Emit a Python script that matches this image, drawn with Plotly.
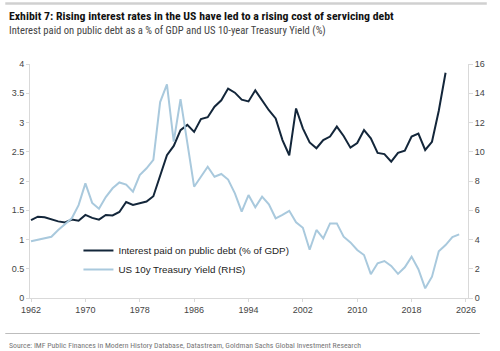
import plotly.graph_objects as go

years_interest = list(range(1962, 2024))
interest_pct_gdp = [
    1.33, 1.39, 1.38, 1.34, 1.31, 1.29, 1.34, 1.32, 1.42, 1.37,
    1.34, 1.42, 1.41, 1.47, 1.64, 1.59, 1.62, 1.65, 1.74, 2.10,
    2.44, 2.60, 2.87, 2.96, 2.84, 3.06, 3.09, 3.27, 3.38, 3.58,
    3.51, 3.39, 3.36, 3.55, 3.38, 3.21, 3.07, 2.70, 2.44, 3.24,
    2.90, 2.66, 2.56, 2.70, 2.76, 2.93, 2.77, 2.57, 2.65, 2.87,
    2.73, 2.48, 2.46, 2.33, 2.48, 2.52, 2.76, 2.81, 2.53, 2.67,
    3.20, 3.85,
]

years_yield = list(range(1962, 2026))
ust10y_yield = [
    3.88, 3.98, 4.13, 4.19, 4.65, 5.05, 5.45, 6.35, 7.84, 6.50,
    6.10, 6.90, 7.50, 7.90, 7.75, 7.27, 8.41, 8.87, 9.44, 13.4,
    14.6, 10.7, 13.6, 10.6, 7.61, 8.29, 8.98, 8.29, 8.48, 8.10,
    7.16, 5.90, 7.04, 6.20, 6.93, 6.40, 5.45, 5.68, 5.96, 5.18,
    4.80, 3.30, 4.65, 4.08, 5.10, 5.10, 4.19, 3.80, 3.28, 2.94,
    1.63, 2.37, 2.53, 2.19, 1.65, 2.10, 2.83, 1.97, 0.66, 1.46,
    3.19, 3.62, 4.17, 4.35,
]

x_ticks = [1962, 1970, 1978, 1986, 1994, 2002, 2010, 2018, 2026]
left_ticks = [0, 0.5, 1, 1.5, 2, 2.5, 3, 3.5, 4]
right_ticks = [0, 2, 4, 6, 8, 10, 12, 14, 16]

title_text = "Exhibit 7: Rising interest rates in the US have led to a rising cost of servicing debt"
subtitle_text = "Interest paid on public debt as a % of GDP and US 10-year Treasury Yield (%)"
source_text = "Source: IMF Public Finances in Modern History Database, Datastream, Goldman Sachs Global Investment Research"

W, H = 500, 351
L, R, T, B = 25, 32, 64, 53
pw, ph = W - L - R, H - T - B

def px(x):
    return (x - L) / pw

def py(y):
    return (H - B - y) / ph

NARROW = "Liberation Sans Narrow, Roboto Condensed, Liberation Sans, Arial"
BASE = "Liberation Sans, Arial"
DARK = "#13263a"
LIGHT = "#a9c9dd"
AXIS = "#d9d9d9"
TICKFONT = dict(family=BASE, size=9, color="#444444")

fig = go.Figure()
fig.add_trace(go.Scatter(
    x=years_interest, y=interest_pct_gdp, mode="lines",
    name="Interest paid on public debt (% of GDP)",
    line=dict(color=DARK, width=2), yaxis="y",
))
fig.add_trace(go.Scatter(
    x=years_yield, y=ust10y_yield, mode="lines",
    name="US 10y Treasury Yield (RHS)",
    line=dict(color=LIGHT, width=2), yaxis="y2",
))

fig.update_layout(
    width=W, height=H,
    margin=dict(l=L, r=R, t=T, b=B, pad=0),
    paper_bgcolor="white", plot_bgcolor="white",
    showlegend=True,
    legend=dict(
        x=px(74), y=py(236), xanchor="left", yanchor="top",
        bgcolor="rgba(0,0,0,0)", font=dict(family=BASE, size=9.8, color="#222222"),
        itemwidth=30, tracegroupgap=0,
    ),
    xaxis=dict(
        range=[1961.85, 2026.3], tickvals=x_ticks, ticktext=[str(v) for v in x_ticks],
        showgrid=False, zeroline=False, showline=True, linecolor=AXIS, linewidth=1,
        ticks="outside", ticklen=3, tickcolor=AXIS, tickfont=TICKFONT,
    ),
    yaxis=dict(
        range=[0, 4], tickvals=left_ticks, ticktext=[f"{v:g}" for v in left_ticks],
        showgrid=False, zeroline=False, showline=True, linecolor=AXIS, linewidth=1,
        ticks="outside", ticklen=3, tickcolor=AXIS, tickfont=TICKFONT,
    ),
    yaxis2=dict(
        range=[0, 16], tickvals=right_ticks, ticktext=[str(v) for v in right_ticks],
        overlaying="y", side="right",
        showgrid=False, zeroline=False, showline=True, linecolor=AXIS, linewidth=1,
        ticks="outside", ticklen=4, tickcolor=AXIS, tickfont=TICKFONT,
    ),
    shapes=[
        dict(type="line", xref="paper", yref="paper", x0=px(0), x1=px(487), y0=py(3.5), y1=py(3.5),
             line=dict(color="#d0d0d0", width=2.5)),
        dict(type="line", xref="paper", yref="paper", x0=px(0), x1=px(480), y0=py(333.5), y1=py(333.5),
             line=dict(color="#bdbdbd", width=1)),
    ],
    annotations=[
        dict(text="<b>" + title_text + "</b>", xref="paper", yref="paper", x=px(2), y=py(16),
             xanchor="left", yanchor="middle", showarrow=False,
             font=dict(family=NARROW, size=11.8, color="#111111")),
        dict(text=subtitle_text, xref="paper", yref="paper", x=px(2), y=py(30),
             xanchor="left", yanchor="middle", showarrow=False,
             font=dict(family=NARROW, size=10.6, color="#444444")),
        dict(text=source_text, xref="paper", yref="paper", x=px(2), y=py(345),
             xanchor="left", yanchor="middle", showarrow=False,
             font=dict(family=NARROW, size=7.8, color="#777777")),
    ],
)

fig.write_html("out.html")
